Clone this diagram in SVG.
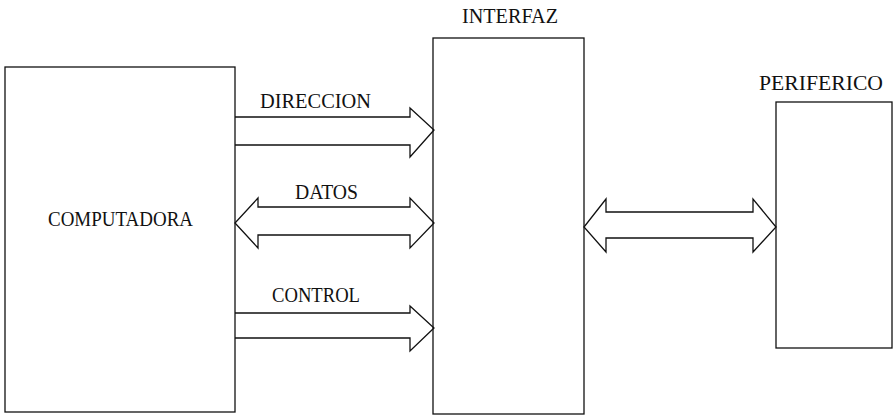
<svg xmlns="http://www.w3.org/2000/svg" width="893" height="417" viewBox="0 0 893 417">
<style>
.box{fill:none;stroke:#111;stroke-width:1.3}
.bus{fill:none;stroke:#111;stroke-width:1.3;stroke-linejoin:miter}
.lbl{font-family:"Liberation Serif","Times New Roman",serif;font-size:20px;fill:#111}
</style>
<rect width="893" height="417" fill="#fff"/>
<g id="computadora">
<rect class="box" x="5" y="67" width="230" height="345"/>
<text class="lbl" x="48" y="226" textLength="145" lengthAdjust="spacingAndGlyphs">COMPUTADORA</text>
</g>
<g id="interfaz">
<rect class="box" x="433" y="38" width="151" height="376"/>
<text class="lbl" x="462" y="23" textLength="96" lengthAdjust="spacingAndGlyphs">INTERFAZ</text>
</g>
<g id="periferico">
<rect class="box" x="776" y="102" width="116" height="246"/>
<text class="lbl" x="759" y="90" textLength="124" lengthAdjust="spacingAndGlyphs">PERIFERICO</text>
</g>
<g id="connectors">
<path class="bus" d="M235,117 H410 V108 L434,130 L410,157 V145 H235"/>
<text class="lbl" x="260" y="108" textLength="111" lengthAdjust="spacingAndGlyphs">DIRECCION</text>
<path class="bus" d="M258,207 H410 V198 L434,223 L410,248 V235 H258 V248 L235,223 L258,198 Z"/>
<text class="lbl" x="295" y="199" textLength="63" lengthAdjust="spacingAndGlyphs">DATOS</text>
<path class="bus" d="M235,313 H410 V306 L434,328 L410,351 V338 H235"/>
<text class="lbl" x="272" y="302" textLength="88" lengthAdjust="spacingAndGlyphs">CONTROL</text>
<path class="bus" d="M606,212 H753 V199 L776,227 L753,252 V238 H606 V252 L584,227 L606,199 Z"/>
</g>
</svg>
